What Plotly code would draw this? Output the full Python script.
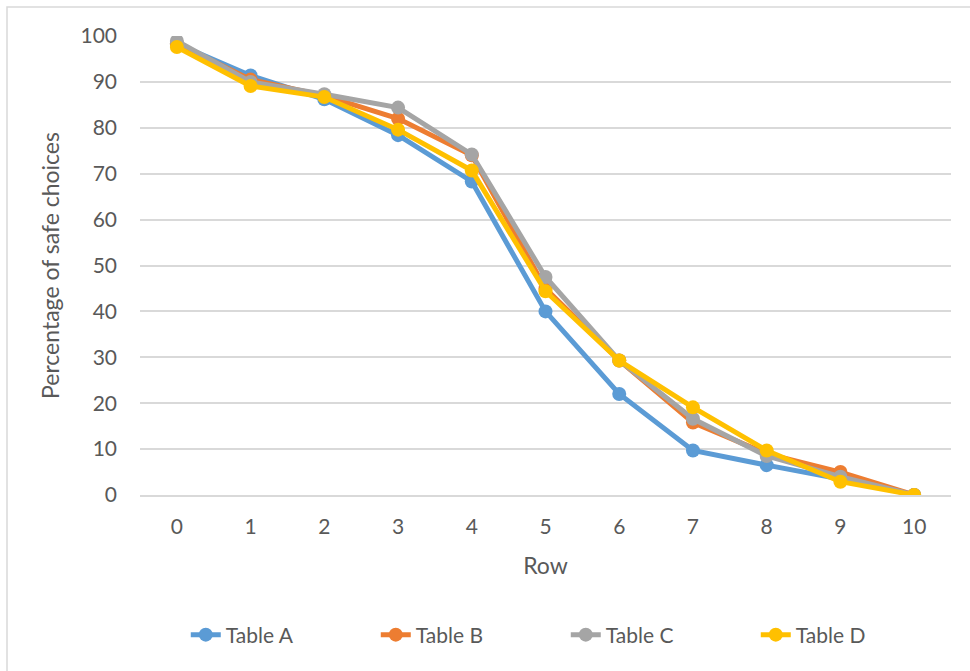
import plotly.graph_objects as go

rows = list(range(11))
table_a = [98.3, 91.4, 86.2, 78.4, 68.3, 40.0, 22.0, 9.7, 6.5, 3.5, 0.0]
table_b = [98.3, 90.5, 87.0, 82.0, 74.0, 45.0, 29.3, 15.8, 9.0, 5.0, 0.0]
table_c = [98.9, 90.0, 87.3, 84.4, 74.2, 47.5, 29.3, 16.6, 8.5, 4.0, 0.0]
table_d = [97.6, 89.1, 86.7, 79.6, 70.7, 44.4, 29.3, 19.1, 9.7, 2.9, 0.0]

series = [
    ("Table A", table_a, "#5B9BD5"),
    ("Table B", table_b, "#ED7D31"),
    ("Table C", table_c, "#A5A5A5"),
    ("Table D", table_d, "#FFC000"),
]

FONT = "Lato"
TEXT = "#595959"
GRID = "#D9D9D9"

fig = go.Figure()
for name, vals, color in series:
    fig.add_trace(go.Scatter(
        x=rows, y=vals, name=name, mode="lines+markers",
        line=dict(color=color, width=5),
        marker=dict(color=color, size=14),
    ))

W, H = 970, 671
ml, mr, mt, mb = 140, 19, 36, 176

fig.update_layout(
    width=W, height=H,
    margin=dict(l=ml, r=mr, t=mt, b=mb),
    paper_bgcolor="white", plot_bgcolor="white",
    font=dict(family=FONT, color=TEXT, size=21),
    showlegend=True,
    legend=dict(orientation="h", x=0.525, xanchor="center", y=-0.305, yanchor="middle",
                font=dict(size=21, color=TEXT), entrywidth=145, entrywidthmode="pixels",
                tracegroupgap=0),
    xaxis=dict(range=[-0.5, 10.5], tickmode="array", tickvals=rows,
               ticktext=[str(r) for r in rows], showgrid=False, zeroline=False,
               showline=True, linecolor=GRID, linewidth=1.5,
               ticks="", ticklabelstandoff=12,
               title=dict(text="Row", font=dict(size=23, color=TEXT), standoff=21)),
    yaxis=dict(range=[0, 100], tickmode="array", tickvals=list(range(0, 101, 10)),
               showgrid=True, gridcolor=GRID, gridwidth=1.5, zeroline=False,
               showline=False, ticks="", ticklabelstandoff=22,
               title=dict(text="Percentage of safe choices", font=dict(size=23, color=TEXT),
                          standoff=14)),
)

# chart border
pw = W - ml - mr
ph = H - mt - mb
fig.add_shape(type="rect", xref="paper", yref="paper",
              x0=(7 - ml) / pw, x1=(W + 10 - ml) / pw,
              y0=-(H + 10 - mt - ph) / ph, y1=1 + (mt - 7) / ph,
              line=dict(color=GRID, width=1.5), fillcolor="rgba(0,0,0,0)", layer="below")

fig.write_html("out.html")
